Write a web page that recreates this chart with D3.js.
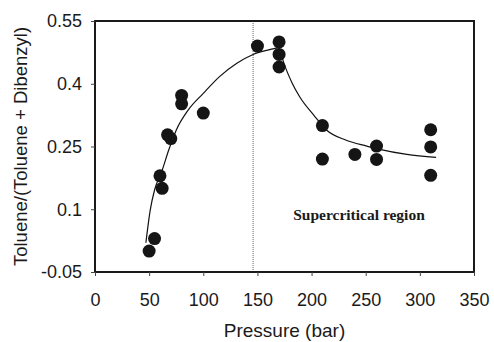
<!DOCTYPE html>
<html>
<head>
<meta charset="utf-8">
<script src="https://cdn.jsdelivr.net/npm/d3@7"></script>
<style>
  body { margin: 0; background: #fff; }
  svg { display: block; }
</style>
</head>
<body>
<svg id="chart"></svg>
<script>
var w = 494;
var h = 342;

// measured points (pressure in bar, ratio)
var pressure = [50, 55, 60, 62, 67, 70, 80, 80, 100, 150, 170, 170, 170, 210, 210, 240, 260, 260, 310, 310, 310];
var ratio = [0.0, 0.03, 0.18, 0.15, 0.278, 0.269, 0.372, 0.352, 0.33, 0.49, 0.50, 0.47, 0.44, 0.30, 0.22, 0.231, 0.251, 0.219, 0.29, 0.249, 0.181];

// fitted curves
var fitLowP = [47, 51, 55, 62, 68, 75, 86, 100, 115, 131, 146, 162, 170];
var fitLowV = [0.02, 0.098, 0.146, 0.193, 0.241, 0.289, 0.337, 0.377, 0.417, 0.449, 0.470, 0.482, 0.487];
var fitHighP = [170, 175, 182, 189, 202, 214, 232, 251, 263, 288, 315];
var fitHighV = [0.487, 0.445, 0.402, 0.369, 0.325, 0.289, 0.265, 0.251, 0.243, 0.231, 0.224];

var xTicks = [0, 50, 100, 150, 200, 250, 300, 350];
var yTicks = [-0.05, 0.1, 0.25, 0.4, 0.55];
var yTickLabels = ["-0.05", "0.1", "0.25", "0.4", "0.55"];
var criticalP = 146;

var svg = d3.select('#chart')
  .attr('width', w)
  .attr('height', h);

svg.append('rect').attr('width', w).attr('height', h).attr('fill', '#fff');

var x = d3.scaleLinear().domain([0, 350]).range([95, 474]);
var y = d3.scaleLinear().domain([-0.05, 0.55]).range([272, 21]);

// dotted line at the critical pressure
svg.append('line')
  .attr('x1', x(criticalP)).attr('x2', x(criticalP))
  .attr('y1', y(0.55)).attr('y2', y(-0.05))
  .attr('stroke', '#666')
  .attr('stroke-width', 1)
  .attr('stroke-dasharray', '1,1');

var line = d3.line()
  .x(function (d) { return x(d[0]); })
  .y(function (d) { return y(d[1]); })
  .curve(d3.curveMonotoneX);

svg.append('path')
  .attr('d', line(d3.zip(fitLowP, fitLowV)))
  .attr('fill', 'none')
  .attr('stroke', '#111')
  .attr('stroke-width', 1.2);

svg.append('path')
  .attr('d', line(d3.zip(fitHighP, fitHighV)))
  .attr('fill', 'none')
  .attr('stroke', '#111')
  .attr('stroke-width', 1.2);

svg.append('g').selectAll('circle')
  .data(d3.zip(pressure, ratio))
.enter().append('circle')
  .attr('cx', function (d) { return x(d[0]); })
  .attr('cy', function (d) { return y(d[1]); })
  .attr('r', 6.5)
  .attr('fill', '#151515');

// frame
svg.append('rect')
  .attr('x', x(0)).attr('y', y(0.55))
  .attr('width', x(350) - x(0))
  .attr('height', y(-0.05) - y(0.55))
  .attr('fill', 'none')
  .attr('stroke', '#1a1a1a')
  .attr('stroke-width', 2);

var xAxis = svg.append('g')
  .attr('transform', 'translate(0,' + y(-0.05) + ')')
  .call(d3.axisBottom(x).tickValues(xTicks).tickSize(4).tickSizeOuter(0).tickPadding(17));

var yAxis = svg.append('g')
  .attr('transform', 'translate(' + x(0) + ',0)')
  .call(d3.axisLeft(y).tickValues(yTicks).tickSize(4).tickSizeOuter(0).tickPadding(9)
    .tickFormat(function (d, i) { return yTickLabels[i]; }));

[xAxis, yAxis].forEach(function (g) {
  g.select('.domain').remove();
  g.selectAll('line').attr('stroke', '#444');
  g.selectAll('text')
    .attr('fill', '#1a1a1a')
    .style('font-family', 'Liberation Sans, Arial, sans-serif')
    .style('font-size', '18px');
});

svg.append('text')
  .attr('x', (x(0) + x(350)) / 2)
  .attr('y', 337)
  .attr('text-anchor', 'middle')
  .style('font-family', 'Liberation Sans, Arial, sans-serif')
  .style('font-size', '19px')
  .attr('fill', '#1a1a1a')
  .text('Pressure (bar)');

svg.append('text')
  .attr('transform', 'translate(27,' + ((y(0.55) + y(-0.05)) / 2) + ') rotate(-90)')
  .attr('text-anchor', 'middle')
  .style('font-family', 'Liberation Sans, Arial, sans-serif')
  .style('font-size', '18.5px')
  .attr('fill', '#1a1a1a')
  .text('Toluene/(Toluene + Dibenzyl)');

svg.append('text')
  .attr('x', 359)
  .attr('y', 220)
  .attr('text-anchor', 'middle')
  .style('font-family', 'Liberation Serif, Times New Roman, serif')
  .style('font-size', '15.5px')
  .style('font-weight', 'bold')
  .attr('fill', '#1a1a1a')
  .text('Supercritical region');
</script>
</body>
</html>
